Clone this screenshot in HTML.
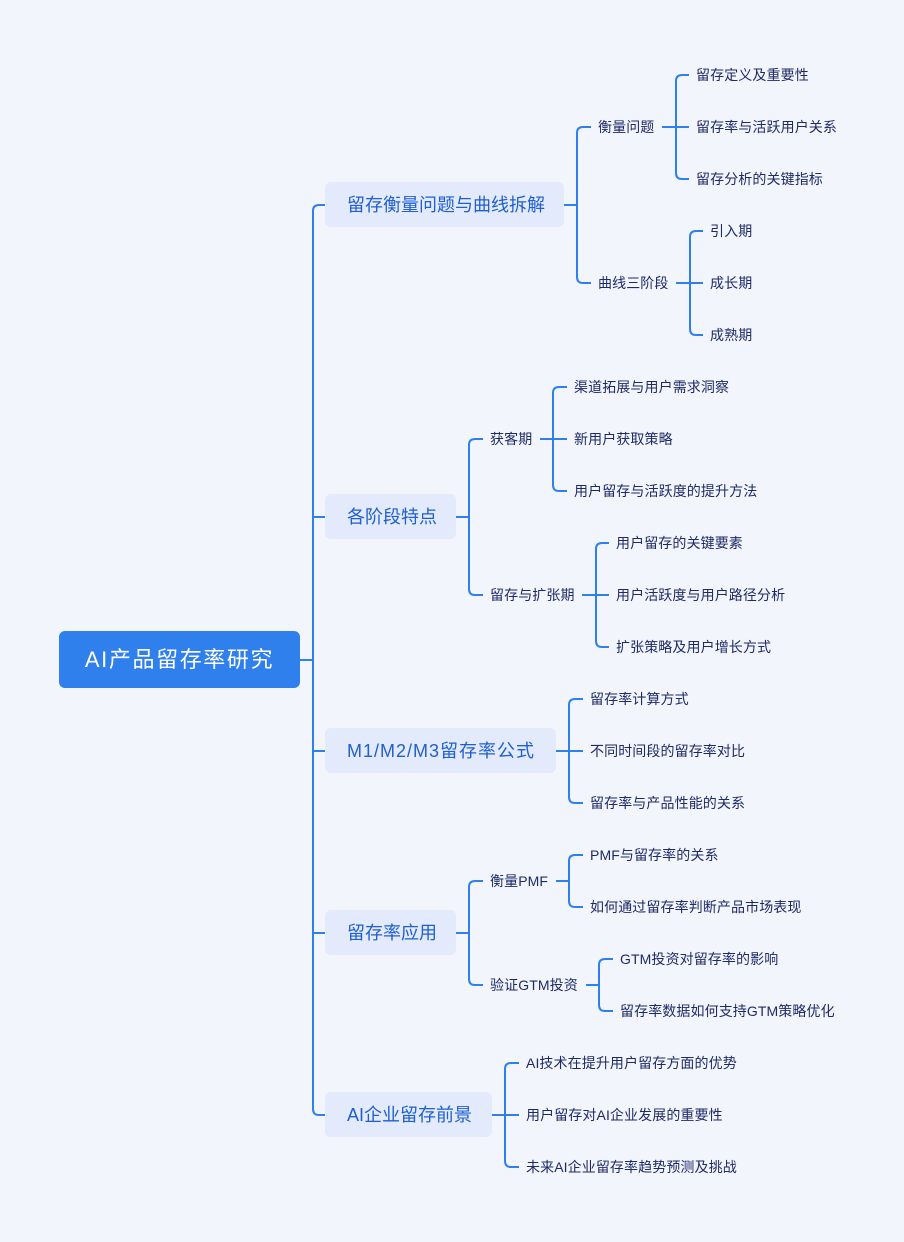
<!DOCTYPE html>
<html><head><meta charset="utf-8"><style>
body{margin:0;width:904px;height:1242px;background:#f3f5fd;position:relative;overflow:hidden;font-family:"Liberation Sans","Noto Sans CJK SC",sans-serif;}
.t{position:absolute;white-space:nowrap;line-height:20px;height:20px;color:#1e2a66;font-size:14px;letter-spacing:0.1px;}
.l1{position:absolute;height:45px;line-height:46px;background:#e3eafc;border-radius:6px;color:#1f5fd0;font-size:18px;letter-spacing:0px;padding-left:22px;box-sizing:border-box;white-space:nowrap;}
.root{position:absolute;left:59px;top:631px;width:241px;height:57px;line-height:57px;background:#2f80ed;border-radius:6px;color:#fff;font-size:22px;letter-spacing:1.6px;text-align:center;}
svg{position:absolute;left:0;top:0}
</style></head><body>
<svg width="904" height="1242" fill="none" stroke="#2f80ed" stroke-width="2">
<path d="M300 660H313M325 205H319Q313 205 313 211V1109Q313 1115 319 1115H325M313 517H325M313 751H325M313 933H325"/>
<path d="M564 205H577M591 127H583Q577 127 577 133V277Q577 283 583 283H591"/>
<path d="M662 127H676M689 75H682Q676 75 676 81V173Q676 179 682 179H689M676 127H689"/>
<path d="M676 283H690M703 231H696Q690 231 690 237V329Q690 335 696 335H703M690 283H703"/>
<path d="M456 517H469M483 439H475Q469 439 469 445V589Q469 595 475 595H483"/>
<path d="M540 439H553M567 387H559Q553 387 553 393V485Q553 491 559 491H567M553 439H567"/>
<path d="M582 595H596M609 543H602Q596 543 596 549V641Q596 647 602 647H609M596 595H609"/>
<path d="M556 751H569M583 699H575Q569 699 569 705V797Q569 803 575 803H583M569 751H583"/>
<path d="M456 933H469M483 881H475Q469 881 469 887V979Q469 985 475 985H483"/>
<path d="M556 881H569M583 855H575Q569 855 569 861V901Q569 907 575 907H583"/>
<path d="M586 985H599M613 959H605Q599 959 599 965V1005Q599 1011 605 1011H613"/>
<path d="M492 1115H505M519 1063H511Q505 1063 505 1069V1161Q505 1167 511 1167H519M505 1115H519"/>
</svg>
<div class="root">AI产品留存率研究</div>
<div class="l1" style="left:325px;top:182px;width:239px">留存衡量问题与曲线拆解</div>
<div class="l1" style="left:325px;top:494px;width:131px">各阶段特点</div>
<div class="l1" style="left:325px;top:728px;width:231px;letter-spacing:1px">M1/M2/M3留存率公式</div>
<div class="l1" style="left:325px;top:910px;width:131px">留存率应用</div>
<div class="l1" style="left:325px;top:1092px;width:167px">AI企业留存前景</div>

<div class="t" style="left:598px;top:117px">衡量问题</div>
<div class="t" style="left:696px;top:65px">留存定义及重要性</div>
<div class="t" style="left:696px;top:117px">留存率与活跃用户关系</div>
<div class="t" style="left:696px;top:169px">留存分析的关键指标</div>
<div class="t" style="left:598px;top:273px">曲线三阶段</div>
<div class="t" style="left:710px;top:221px">引入期</div>
<div class="t" style="left:710px;top:273px">成长期</div>
<div class="t" style="left:710px;top:325px">成熟期</div>

<div class="t" style="left:490px;top:429px">获客期</div>
<div class="t" style="left:574px;top:377px">渠道拓展与用户需求洞察</div>
<div class="t" style="left:574px;top:429px">新用户获取策略</div>
<div class="t" style="left:574px;top:481px">用户留存与活跃度的提升方法</div>
<div class="t" style="left:490px;top:585px">留存与扩张期</div>
<div class="t" style="left:616px;top:533px">用户留存的关键要素</div>
<div class="t" style="left:616px;top:585px">用户活跃度与用户路径分析</div>
<div class="t" style="left:616px;top:637px">扩张策略及用户增长方式</div>

<div class="t" style="left:590px;top:689px">留存率计算方式</div>
<div class="t" style="left:590px;top:741px">不同时间段的留存率对比</div>
<div class="t" style="left:590px;top:793px">留存率与产品性能的关系</div>

<div class="t" style="left:490px;top:871px">衡量PMF</div>
<div class="t" style="left:590px;top:845px">PMF与留存率的关系</div>
<div class="t" style="left:590px;top:897px">如何通过留存率判断产品市场表现</div>
<div class="t" style="left:490px;top:975px">验证GTM投资</div>
<div class="t" style="left:620px;top:949px">GTM投资对留存率的影响</div>
<div class="t" style="left:620px;top:1001px">留存率数据如何支持GTM策略优化</div>

<div class="t" style="left:526px;top:1053px">AI技术在提升用户留存方面的优势</div>
<div class="t" style="left:526px;top:1105px">用户留存对AI企业发展的重要性</div>
<div class="t" style="left:526px;top:1157px">未来AI企业留存率趋势预测及挑战</div>
</body></html>
